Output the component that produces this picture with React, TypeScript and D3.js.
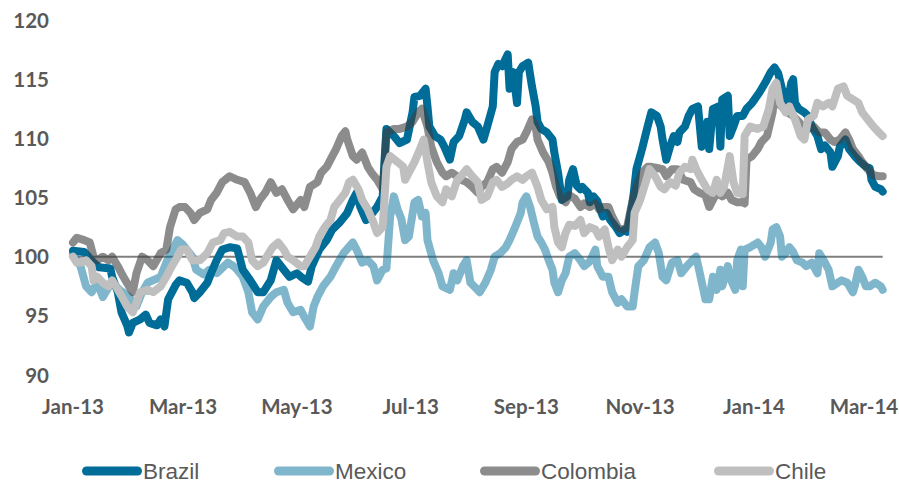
import React from "react";
import * as d3 from "d3";

// Index levels (start of 2013 = 100), daily closes sampled at turning points
const brazil: [string, number][] = [
  ["2013-01-01",100.5],["2013-01-07",100.4],["2013-01-12",99.5],["2013-01-15",99.1],["2013-01-21",99.0],["2013-01-22",98.3],["2013-01-25",97.0],["2013-01-27",95.3],["2013-01-30",94.2],["2013-01-31",93.6],
  ["2013-02-02",94.4],["2013-02-06",94.7],["2013-02-09",95.1],["2013-02-11",94.4],["2013-02-15",94.2],["2013-02-17",94.7],["2013-02-19",94.1],["2013-02-21",96.4],["2013-02-25",97.6],["2013-02-27",98.0],
  ["2013-03-03",97.8],["2013-03-06",97.0],["2013-03-07",96.5],["2013-03-10",97.0],["2013-03-14",97.8],["2013-03-16",98.6],["2013-03-19",99.7],["2013-03-22",100.6],["2013-03-26",100.8],["2013-03-30",100.7],
  ["2013-04-02",98.9],["2013-04-06",98.0],["2013-04-10",97.0],["2013-04-13",97.0],["2013-04-17",98.0],["2013-04-20",99.7],["2013-04-24",98.9],["2013-04-27",98.3],
  ["2013-05-01",98.6],["2013-05-04",98.2],["2013-05-07",97.9],["2013-05-09",99.2],["2013-05-13",100.6],["2013-05-17",101.4],["2013-05-20",102.3],["2013-05-24",102.9],["2013-05-28",103.7],["2013-05-31",104.8],
  ["2013-06-02",105.4],["2013-06-04",104.2],["2013-06-07",103.1],["2013-06-09",103.4],["2013-06-13",104.2],["2013-06-16",105.1],["2013-06-17",108.2],["2013-06-18",110.8],["2013-06-22",110.2],["2013-06-25",109.6],["2013-06-29",109.9],
  ["2013-07-02",112.2],["2013-07-03",113.5],["2013-07-06",113.6],["2013-07-09",114.2],["2013-07-10",112.7],["2013-07-11",111.0],["2013-07-14",110.2],["2013-07-17",109.9],["2013-07-19",109.3],["2013-07-22",108.2],["2013-07-24",109.7],["2013-07-27",110.2],["2013-07-30",111.6],["2013-07-31",112.2],
  ["2013-08-03",111.4],["2013-08-06",111.0],["2013-08-09",109.9],["2013-08-11",111.0],["2013-08-14",112.7],["2013-08-15",115.6],["2013-08-17",116.3],["2013-08-19",116.1],["2013-08-22",117.1],["2013-08-23",114.2],["2013-08-25",115.6],["2013-08-27",113.0],["2013-08-28",115.6],["2013-08-30",116.1],
  ["2013-09-02",116.4],["2013-09-04",114.4],["2013-09-06",112.7],["2013-09-07",111.4],["2013-09-09",110.8],["2013-09-12",110.5],["2013-09-15",109.9],["2013-09-16",108.8],["2013-09-18",107.1],["2013-09-20",104.8],["2013-09-23",105.1],["2013-09-24",106.5],["2013-09-26",107.4],["2013-09-28",106.0],["2013-09-30",105.7],
  ["2013-10-01",105.9],["2013-10-04",105.4],["2013-10-05",104.6],["2013-10-07",105.1],["2013-10-09",104.7],["2013-10-12",103.4],["2013-10-14",103.7],["2013-10-16",103.1],["2013-10-19",102.5],["2013-10-21",102.0],["2013-10-24",102.3],["2013-10-25",102.1],["2013-10-28",104.6],["2013-10-30",107.4],
  ["2013-11-02",109.1],["2013-11-05",111.0],["2013-11-07",112.2],["2013-11-10",111.9],["2013-11-12",111.0],["2013-11-13",109.9],["2013-11-15",108.2],["2013-11-17",109.3],["2013-11-19",110.2],["2013-11-21",109.7],["2013-11-22",110.5],["2013-11-25",111.0],["2013-11-27",111.9],["2013-11-29",112.5],
  ["2013-12-02",112.7],["2013-12-04",109.3],["2013-12-07",111.4],["2013-12-08",109.1],["2013-12-10",112.5],["2013-12-13",112.7],["2013-12-14",109.3],["2013-12-15",113.3],["2013-12-18",113.6],["2013-12-19",110.2],["2013-12-21",111.0],["2013-12-23",111.9],["2013-12-26",111.9],["2013-12-28",112.5],["2013-12-31",113.0],
  ["2014-01-04",113.9],["2014-01-07",114.7],["2014-01-10",115.6],["2014-01-12",116.0],["2014-01-14",115.5],["2014-01-16",114.2],["2014-01-19",113.0],["2014-01-21",114.7],["2014-01-22",115.0],["2014-01-23",113.0],["2014-01-25",112.5],["2014-01-28",112.2],["2014-01-30",111.9],
  ["2014-02-01",111.0],["2014-02-04",110.2],["2014-02-06",109.1],["2014-02-08",109.4],["2014-02-11",108.8],["2014-02-12",107.6],["2014-02-15",108.5],["2014-02-16",109.3],["2014-02-19",109.9],["2014-02-21",109.1],["2014-02-24",108.5],["2014-02-27",108.0],
  ["2014-03-02",107.6],["2014-03-04",107.5],["2014-03-05",106.5],["2014-03-07",105.9],["2014-03-10",105.7],["2014-03-11",105.5],
];

const mexico: [string, number][] = [
  ["2013-01-01",100.2],["2013-01-05",99.2],["2013-01-08",97.5],["2013-01-11",97.0],["2013-01-14",97.8],["2013-01-17",96.6],["2013-01-20",97.4],["2013-01-22",97.8],["2013-01-26",97.2],["2013-01-31",96.6],
  ["2013-02-04",95.8],["2013-02-07",97.0],["2013-02-10",97.8],["2013-02-17",98.3],["2013-02-20",99.5],["2013-02-24",100.8],["2013-02-26",101.4],
  ["2013-03-01",101.0],["2013-03-06",100.0],["2013-03-08",98.9],["2013-03-12",98.5],["2013-03-15",98.9],["2013-03-19",98.6],["2013-03-25",99.5],["2013-03-28",99.2],["2013-03-30",98.9],
  ["2013-04-02",98.3],["2013-04-05",97.0],["2013-04-07",95.3],["2013-04-10",94.7],["2013-04-13",95.8],["2013-04-17",96.6],["2013-04-20",97.0],["2013-04-24",97.2],["2013-04-26",96.1],["2013-04-29",95.3],
  ["2013-05-03",95.5],["2013-05-05",94.9],["2013-05-08",94.1],["2013-05-10",95.8],["2013-05-12",96.6],["2013-05-15",97.5],["2013-05-19",98.3],["2013-05-22",99.2],["2013-05-26",100.3],["2013-05-31",101.2],
  ["2013-06-02",100.6],["2013-06-05",99.5],["2013-06-08",99.7],["2013-06-11",99.2],["2013-06-13",98.0],["2013-06-16",98.9],["2013-06-18",99.0],["2013-06-20",103.4],["2013-06-22",105.1],["2013-06-24",104.0],["2013-06-26",103.2],["2013-06-28",101.4],["2013-06-30",101.7],
  ["2013-07-03",104.6],["2013-07-05",104.8],["2013-07-07",103.4],["2013-07-09",103.7],["2013-07-10",101.4],["2013-07-13",99.7],["2013-07-16",98.6],["2013-07-18",97.5],["2013-07-22",97.2],["2013-07-24",98.6],["2013-07-26",98.0],["2013-07-29",99.2],["2013-07-31",99.7],
  ["2013-08-02",97.8],["2013-08-04",97.5],["2013-08-07",97.0],["2013-08-10",97.8],["2013-08-13",98.9],["2013-08-15",100.0],["2013-08-18",100.3],["2013-08-21",100.8],["2013-08-23",101.4],["2013-08-26",102.5],["2013-08-29",103.7],["2013-08-30",104.6],
  ["2013-09-01",105.1],["2013-09-03",104.2],["2013-09-05",102.9],["2013-09-07",101.7],["2013-09-09",101.2],["2013-09-11",100.6],["2013-09-13",99.7],["2013-09-15",98.9],["2013-09-16",97.8],["2013-09-18",97.0],["2013-09-20",98.0],["2013-09-22",98.6],["2013-09-24",100.0],["2013-09-27",100.3],["2013-09-30",99.7],
  ["2013-10-02",99.2],["2013-10-05",99.6],["2013-10-08",100.6],["2013-10-09",99.2],["2013-10-12",98.3],["2013-10-15",98.3],["2013-10-17",97.0],["2013-10-20",96.1],["2013-10-22",96.4],["2013-10-25",95.8],["2013-10-28",95.8],["2013-10-29",97.0],["2013-10-31",99.2],
  ["2013-11-03",99.7],["2013-11-06",100.8],["2013-11-09",101.2],["2013-11-11",100.3],["2013-11-13",98.3],["2013-11-15",98.0],["2013-11-18",99.5],["2013-11-21",99.7],["2013-11-23",98.6],["2013-11-26",99.2],["2013-11-29",99.7],
  ["2013-12-01",100.0],["2013-12-03",98.6],["2013-12-06",96.4],["2013-12-08",96.4],["2013-12-10",98.3],["2013-12-12",97.2],["2013-12-14",98.9],["2013-12-15",97.5],["2013-12-18",99.2],["2013-12-19",98.3],["2013-12-22",97.2],["2013-12-23",99.7],["2013-12-25",100.6],["2013-12-26",97.5],["2013-12-27",100.6],["2013-12-30",100.8],
  ["2014-01-03",101.2],["2014-01-05",100.8],["2014-01-07",100.0],["2014-01-10",101.2],["2014-01-11",102.3],["2014-01-13",102.5],["2014-01-15",101.7],["2014-01-16",100.0],["2014-01-18",100.3],["2014-01-20",100.8],["2014-01-22",100.4],["2014-01-24",99.7],["2014-01-27",99.5],["2014-01-29",99.2],
  ["2014-02-01",99.5],["2014-02-04",98.6],["2014-02-05",100.3],["2014-02-08",99.5],["2014-02-10",98.9],["2014-02-12",97.5],["2014-02-15",97.8],["2014-02-17",98.0],["2014-02-20",97.8],["2014-02-23",97.0],["2014-02-24",97.5],["2014-02-26",98.9],["2014-02-28",98.3],
  ["2014-03-02",97.5],["2014-03-04",97.5],["2014-03-07",97.8],["2014-03-10",97.5],["2014-03-11",97.2],
];

const colombia: [string, number][] = [
  ["2013-01-01",101.2],["2013-01-03",101.6],["2013-01-07",101.4],["2013-01-10",101.2],["2013-01-12",100.0],["2013-01-14",99.7],["2013-01-17",100.0],["2013-01-20",99.7],["2013-01-22",100.0],["2013-01-25",99.2],["2013-01-28",98.3],["2013-01-31",97.5],
  ["2013-02-02",97.0],["2013-02-04",98.6],["2013-02-07",100.0],["2013-02-10",99.7],["2013-02-13",99.2],["2013-02-17",100.3],["2013-02-20",100.6],["2013-02-22",102.5],["2013-02-25",104.0],["2013-02-27",104.2],
  ["2013-03-02",104.2],["2013-03-05",103.7],["2013-03-07",103.1],["2013-03-10",103.7],["2013-03-14",104.0],["2013-03-16",104.8],["2013-03-19",105.4],["2013-03-22",106.3],["2013-03-26",106.8],["2013-03-30",106.5],
  ["2013-04-03",106.3],["2013-04-06",105.4],["2013-04-09",104.2],["2013-04-11",104.8],["2013-04-14",105.4],["2013-04-17",106.3],["2013-04-20",105.4],["2013-04-23",105.7],["2013-04-26",104.8],["2013-04-29",104.0],
  ["2013-05-03",104.8],["2013-05-05",104.2],["2013-05-08",105.9],["2013-05-12",106.3],["2013-05-14",107.1],["2013-05-17",107.6],["2013-05-20",108.5],["2013-05-22",109.1],["2013-05-25",110.2],["2013-05-27",110.6],["2013-05-28",109.9],["2013-05-31",108.5],
  ["2013-06-02",108.2],["2013-06-05",108.8],["2013-06-08",107.6],["2013-06-10",107.1],["2013-06-13",106.5],["2013-06-16",105.7],["2013-06-17",107.6],["2013-06-18",110.5],["2013-06-22",110.8],["2013-06-25",110.8],["2013-06-29",111.0],
  ["2013-07-02",111.4],["2013-07-05",112.2],["2013-07-07",112.5],["2013-07-10",111.0],["2013-07-12",109.3],["2013-07-15",108.0],["2013-07-18",107.1],["2013-07-20",106.8],["2013-07-23",107.1],["2013-07-26",106.8],["2013-07-28",106.5],["2013-07-31",106.3],
  ["2013-08-03",105.9],["2013-08-06",105.4],["2013-08-08",105.9],["2013-08-11",106.3],["2013-08-14",107.4],["2013-08-16",107.6],["2013-08-19",107.1],["2013-08-22",108.0],["2013-08-24",109.1],["2013-08-27",109.7],["2013-08-30",109.9],
  ["2013-09-01",110.5],["2013-09-04",111.6],["2013-09-06",111.0],["2013-09-07",109.9],["2013-09-10",108.8],["2013-09-13",108.0],["2013-09-15",107.1],["2013-09-17",105.9],["2013-09-19",105.1],["2013-09-22",104.6],["2013-09-24",105.2],["2013-09-27",104.9],["2013-09-30",104.2],
  ["2013-10-02",104.5],["2013-10-05",104.2],["2013-10-08",104.5],["2013-10-10",104.0],["2013-10-12",104.2],["2013-10-15",104.2],["2013-10-17",103.4],["2013-10-20",102.5],["2013-10-23",102.3],["2013-10-25",102.5],["2013-10-28",104.8],["2013-10-30",105.9],
  ["2013-11-02",107.1],["2013-11-05",107.6],["2013-11-07",107.6],["2013-11-10",107.5],["2013-11-13",107.4],["2013-11-15",106.8],["2013-11-18",107.4],["2013-11-21",107.4],["2013-11-24",106.5],["2013-11-28",106.3],["2013-11-30",105.7],
  ["2013-12-03",105.4],["2013-12-06",105.2],["2013-12-08",104.2],["2013-12-10",104.8],["2013-12-12",105.4],["2013-12-15",105.1],["2013-12-18",105.4],["2013-12-20",104.8],["2013-12-23",104.6],["2013-12-26",104.6],["2013-12-27",104.5],["2013-12-28",108.2],["2013-12-31",108.5],
  ["2014-01-03",109.1],["2014-01-05",109.7],["2014-01-08",110.2],["2014-01-11",112.2],["2014-01-12",113.6],["2014-01-14",113.0],["2014-01-17",112.5],["2014-01-19",112.2],["2014-01-22",111.9],["2014-01-25",111.4],["2014-01-27",111.0],["2014-01-30",110.8],
  ["2014-02-02",111.0],["2014-02-05",110.5],["2014-02-08",110.5],["2014-02-11",109.9],["2014-02-13",109.7],["2014-02-16",109.9],["2014-02-19",110.5],["2014-02-21",109.9],["2014-02-23",109.1],["2014-02-26",108.5],["2014-02-28",108.0],
  ["2014-03-03",107.4],["2014-03-06",106.9],["2014-03-09",106.8],["2014-03-11",106.8],
];

const chile: [string, number][] = [
  ["2013-01-01",100.0],["2013-01-03",99.5],["2013-01-05",99.5],["2013-01-08",99.7],["2013-01-11",99.2],["2013-01-12",98.0],["2013-01-14",98.3],["2013-01-17",97.8],["2013-01-20",97.5],["2013-01-22",98.0],["2013-01-25",97.2],["2013-01-28",96.4],["2013-01-30",95.8],
  ["2013-02-02",95.3],["2013-02-04",96.1],["2013-02-06",97.0],["2013-02-10",97.2],["2013-02-13",97.0],["2013-02-17",97.5],["2013-02-20",98.3],["2013-02-23",99.2],["2013-02-26",100.0],["2013-02-28",100.6],
  ["2013-03-03",100.6],["2013-03-06",99.7],["2013-03-10",99.7],["2013-03-14",100.3],["2013-03-17",101.2],["2013-03-21",101.4],["2013-03-23",102.0],["2013-03-26",102.1],["2013-03-30",101.7],
  ["2013-04-02",101.7],["2013-04-05",101.2],["2013-04-07",99.7],["2013-04-10",99.2],["2013-04-13",99.5],["2013-04-16",100.3],["2013-04-18",100.8],["2013-04-21",101.2],["2013-04-24",100.6],["2013-04-26",100.0],["2013-04-29",99.7],
  ["2013-05-03",99.2],["2013-05-05",99.2],["2013-05-08",100.0],["2013-05-11",100.8],["2013-05-13",101.7],["2013-05-16",102.5],["2013-05-19",103.1],["2013-05-21",104.2],["2013-05-24",104.8],["2013-05-27",105.4],["2013-05-29",106.3],["2013-05-31",106.5],
  ["2013-06-03",105.7],["2013-06-05",104.8],["2013-06-08",104.0],["2013-06-11",102.9],["2013-06-13",102.0],["2013-06-16",102.5],["2013-06-18",107.6],["2013-06-20",108.5],["2013-06-24",108.0],["2013-06-27",107.6],["2013-06-28",106.5],["2013-06-30",107.1],
  ["2013-07-03",108.0],["2013-07-06",109.1],["2013-07-08",109.9],["2013-07-10",108.0],["2013-07-12",106.3],["2013-07-15",105.1],["2013-07-18",104.6],["2013-07-20",105.7],["2013-07-23",105.1],["2013-07-26",106.5],["2013-07-28",106.8],["2013-07-31",107.4],
  ["2013-08-03",106.8],["2013-08-06",106.3],["2013-08-08",104.8],["2013-08-11",105.1],["2013-08-14",106.3],["2013-08-16",106.5],["2013-08-19",105.9],["2013-08-22",106.2],["2013-08-24",106.5],["2013-08-27",106.8],["2013-08-30",106.5],
  ["2013-09-01",106.8],["2013-09-04",107.1],["2013-09-07",105.9],["2013-09-09",104.8],["2013-09-12",104.0],["2013-09-15",104.2],["2013-09-16",102.5],["2013-09-18",101.2],["2013-09-20",100.8],["2013-09-22",102.0],["2013-09-24",102.7],["2013-09-27",102.6],["2013-09-30",103.1],
  ["2013-10-02",102.0],["2013-10-05",102.5],["2013-10-08",102.3],["2013-10-10",101.7],["2013-10-13",102.3],["2013-10-15",100.8],["2013-10-17",99.7],["2013-10-20",100.6],["2013-10-22",100.0],["2013-10-25",100.8],["2013-10-28",101.4],["2013-10-29",103.7],
  ["2013-11-01",104.8],["2013-11-04",106.3],["2013-11-06",107.4],["2013-11-09",106.8],["2013-11-12",105.9],["2013-11-14",105.7],["2013-11-17",106.3],["2013-11-20",106.0],["2013-11-22",107.1],["2013-11-25",107.6],["2013-11-28",107.4],["2013-11-29",108.2],
  ["2013-12-01",107.4],["2013-12-04",106.5],["2013-12-07",105.7],["2013-12-10",105.4],["2013-12-12",106.5],["2013-12-14",105.4],["2013-12-16",105.9],["2013-12-19",108.5],["2013-12-21",106.3],["2013-12-23",105.4],["2013-12-26",105.3],["2013-12-27",110.2],["2013-12-30",111.0],
  ["2014-01-03",110.8],["2014-01-06",111.0],["2014-01-09",112.5],["2014-01-11",114.2],["2014-01-13",114.7],["2014-01-15",113.0],["2014-01-18",112.2],["2014-01-20",112.7],["2014-01-23",111.6],["2014-01-26",110.2],["2014-01-28",109.9],["2014-01-30",111.6],
  ["2014-02-02",111.9],["2014-02-04",113.0],["2014-02-07",112.7],["2014-02-10",113.0],["2014-02-12",112.7],["2014-02-15",114.2],["2014-02-18",114.4],["2014-02-20",113.6],["2014-02-23",113.3],["2014-02-26",113.0],["2014-02-28",112.2],
  ["2014-03-03",111.6],["2014-03-06",111.0],["2014-03-09",110.5],["2014-03-11",110.2],
];

const seriesNames = ["Brazil", "Mexico", "Colombia", "Chile"];
const yTickValues = [90, 95, 100, 105, 110, 115, 120];
const baseline = 100;
const dateRange = ["2013-01-01", "2014-03-11"];

const parse = d3.timeParse("%Y-%m-%d");

export default function App() {
  const width = 899;
  const height = 483;

  const x = d3
    .scaleTime()
    .domain(dateRange.map((d) => parse(d) as Date))
    .range([73, 882.7]);
  const y = d3.scaleLinear().domain([90, 120]).range([375, 20.1]);

  const styles = [
    { color: "#006D99", opacity: 1 },
    { color: "#006D99", opacity: 0.5 },
    { color: "#404040", opacity: 0.6 },
    { color: "#BFBFBF", opacity: 1 },
  ];
  const dataSets = [brazil, mexico, colombia, chile];

  const line = d3
    .line<[string, number]>()
    .x((d) => x(parse(d[0]) as Date))
    .y((d) => y(d[1]));

  const xTicks = x.ticks(d3.timeMonth.every(2) as d3.TimeInterval);
  const fmt = d3.timeFormat("%b-%y");

  const legendX = [82, 274, 480, 714];
  const legendY = 471;

  const labelFont = "Lato, 'Open Sans', sans-serif";

  return (
    <svg
      width={width}
      height={height}
      style={{ position: "absolute", left: 0, top: 0, background: "#fff" }}
    >
      <rect width={width} height={height} fill="#fff" />
      {/* y-axis labels */}
      {yTickValues.map((v) => (
        <text
          key={v}
          x={49}
          y={y(v) + 7.5}
          textAnchor="end"
          fontFamily={labelFont}
          fontWeight={700}
          fontSize={20.5}
          fill="#595959"
        >
          {v}
        </text>
      ))}
      {/* x-axis labels */}
      {xTicks.map((t) => (
        <text
          key={t.getTime()}
          x={x(t)}
          y={414}
          textAnchor="middle"
          fontFamily={labelFont}
          fontWeight={700}
          fontSize={20.5}
          fill="#595959"
        >
          {fmt(t)}
        </text>
      ))}
      {/* reference level */}
      <line
        x1={x.range()[0]}
        x2={x.range()[1]}
        y1={y(baseline)}
        y2={y(baseline)}
        stroke="#7F7F7F"
        strokeWidth={2}
      />
      {/* series */}
      {dataSets.map((data, i) => (
        <path
          key={seriesNames[i]}
          d={line(data) || ""}
          fill="none"
          stroke={styles[i].color}
          strokeOpacity={styles[i].opacity}
          strokeWidth={8}
          strokeLinejoin="round"
          strokeLinecap="round"
        />
      ))}
      {/* legend */}
      {seriesNames.map((name, i) => (
        <g key={name}>
          <line
            x1={legendX[i] + 4.5}
            x2={legendX[i] + 55.5}
            y1={legendY}
            y2={legendY}
            stroke={styles[i].color}
            strokeOpacity={styles[i].opacity}
            strokeWidth={9}
            strokeLinecap="round"
          />
          <text
            x={legendX[i] + 61}
            y={legendY + 8}
            fontFamily="'Liberation Sans', Arial, sans-serif"
            fontSize={22.5}
            fill="#595959"
          >
            {name}
          </text>
        </g>
      ))}
    </svg>
  );
}
